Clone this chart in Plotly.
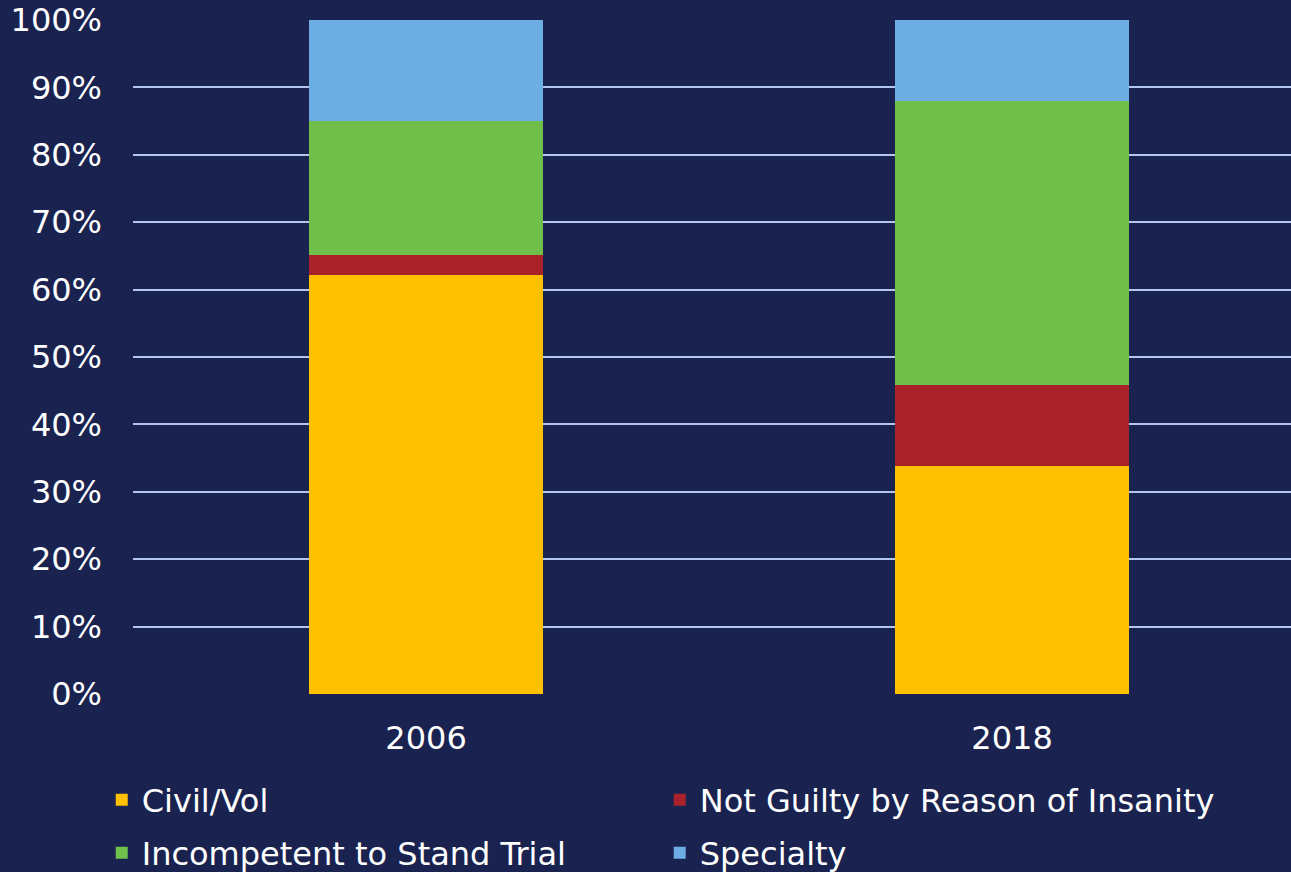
import plotly.graph_objects as go

years = ["2006", "2018"]
series_names = ["Civil/Vol", "Not Guilty by Reason of Insanity", "Incompetent to Stand Trial", "Specialty"]
civil_vol = [0.622, 0.338]
ngri = [0.030, 0.120]
ist = [0.198, 0.422]
specialty = [0.150, 0.120]
y_ticks = [0, 0.1, 0.2, 0.3, 0.4, 0.5, 0.6, 0.7, 0.8, 0.9, 1.0]
y_tick_labels = ["0%", "10%", "20%", "30%", "40%", "50%", "60%", "70%", "80%", "90%", "100%"]

colors = ["#ffc000", "#aa2229", "#6fbf4a", "#6cade4"]
values = [civil_vol, ngri, ist, specialty]
legends = ["legend", "legend", "legend2", "legend2"]

BG = "#1a2350"
GRID = "#b4c6ea"
FONT = "DejaVu Sans, Verdana, sans-serif"
FS = 32

fig = go.Figure()
for name, vals, col, lg in zip(series_names, values, colors, legends):
    fig.add_trace(go.Bar(
        x=years, y=vals, name=name, marker=dict(color=col, line=dict(width=0)),
        legend=lg, hoverinfo="skip"
    ))

legend_common = dict(
    orientation="h", xanchor="left", yanchor="middle",
    font=dict(family=FONT, size=FS, color="#ffffff"),
    bgcolor="rgba(0,0,0,0)", traceorder="normal",
    entrywidth=513, entrywidthmode="pixels",
)

fig.update_layout(
    width=1291, height=872,
    paper_bgcolor=BG, plot_bgcolor=BG,
    barmode="stack", bargap=0.6,
    margin=dict(l=133, r=0, t=20, b=178, autoexpand=False),
    font=dict(family=FONT, size=FS, color="#ffffff"),
    xaxis=dict(type="category", range=[-0.5, 1.476], automargin=False,
               showgrid=False, showline=False, zeroline=False, ticks="",
               tickfont=dict(family=FONT, size=FS, color="#ffffff"),
               ticklabelstandoff=22),
    yaxis=dict(range=[0, 1.0], tickvals=y_ticks, ticktext=y_tick_labels,
               automargin=False,
               showgrid=True, gridcolor=GRID, gridwidth=2,
               zeroline=False, showline=False, ticks="",
               tickfont=dict(family=FONT, size=FS, color="#ffffff"),
               ticklabelstandoff=30),
    legend=dict(x=-0.027, y=-0.1573, **legend_common),
    legend2=dict(x=-0.027, y=-0.2359, **legend_common),
    showlegend=True,
)

fig.write_html("out.html", config={"displayModeBar": False},
               post_script="document.body.style.margin='0';document.body.style.overflow='hidden';")
